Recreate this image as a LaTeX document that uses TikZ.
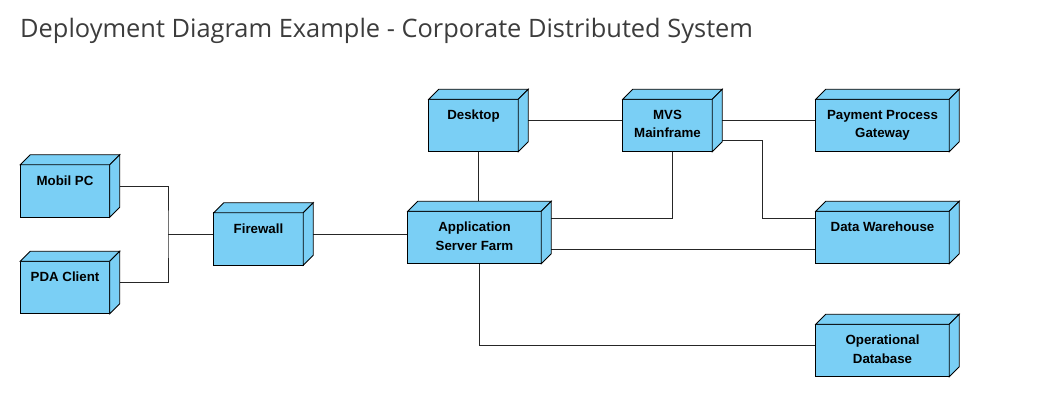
\documentclass[tikz,border=0pt]{standalone}
\usepackage{fontspec}
\setmainfont{Liberation Sans}
\newfontfamily\titlefont{Open Sans}
\usetikzlibrary{calc,backgrounds}
\definecolor{nodeblue}{RGB}{122,207,245}
\definecolor{titlegray}{RGB}{60,60,60}
\tikzset{
  dnode/.style={minimum width=99pt,minimum height=62pt,inner sep=0pt},
  wide/.style={minimum width=143pt},
  dlabel/.style={anchor=north,inner sep=0pt,xshift=-5pt,yshift=-20.5pt,
    align=center,font=\fontsize{13.3}{18.5}\selectfont\bfseries},
  box/.style={fill=nodeblue,draw=black,line width=0.9pt,line join=miter},
  link/.style={draw=black!85,line width=0.9pt},
}

\begin{document}
\begin{tikzpicture}[x=1pt,y=1pt]
    \useasboundingbox (0,0) rectangle (1053,-403);
    \node[anchor=base west,font=\titlefont\fontsize{25.4}{28}\selectfont,text=titlegray,inner sep=0pt]
      (title) at (20,-38) {Deployment Diagram Example - Corporate Distributed System};
    % nodes
    \node[dnode,label={[dlabel]north:Mobil PC}] (mobil) at (70,-186) {};
    \node[dnode,label={[dlabel]north:PDA Client}] (pda) at (70,-282.5) {};
    \node[dnode,label={[dlabel]north:Firewall}] (fw) at (263.5,-234) {};
    \node[dnode,label={[dlabel]north:Desktop}] (desk) at (478.5,-120.5) {};
    \node[dnode,label={[dlabel]north:MVS\\Mainframe}] (mvs) at (672.5,-120.5) {};
    \node[dnode,wide,label={[dlabel]north:Application\\Server Farm}] (app) at (479.5,-232.5) {};
    \node[dnode,wide,label={[dlabel]north:Payment Process\\Gateway}] (pay) at (887.5,-120.5) {};
    \node[dnode,wide,label={[dlabel]north:Data Warehouse}] (dw) at (887.5,-232.5) {};
    \node[dnode,wide,label={[dlabel]north:Operational\\Database}] (odb) at (887.5,-345.5) {};
    \begin{pgfonlayer}{background}
    % connectors
    \coordinate (jn) at (168,-234);
    \draw[link] (mobil.east) -| (jn) |- (pda.east);
    \draw[link] (jn) -- (fw.west);
    \draw[link] (fw.east) -- (fw.east -| app.west);
    \draw[link] (desk.east) -- (mvs.west);
    \draw[link] (desk.south) -- (desk.south |- app.north);
    \draw[link] (mvs.south) |- ([yshift=14.5pt]app.east);
    \draw[link] (mvs.east) -- (pay.west);
    \draw[link] ([yshift=-20pt]mvs.east) -- ++(40,0) |- ([yshift=14.5pt]dw.west);
    \draw[link] ([yshift=-17pt]app.east) -- ([yshift=-17pt]dw.west);
    \draw[link] (app.south) |- (odb.west);
    % 3d boxes
    \foreach \n in {mobil,pda,fw,desk,mvs,app,pay,dw,odb}{
      \draw[box] (\n.south west) rectangle ([shift={(-10pt,-10pt)}]\n.north east);
      \draw[box] ([yshift=-10pt]\n.north west) -- ([xshift=10pt]\n.north west)
        -- (\n.north east) -- ([shift={(-10pt,-10pt)}]\n.north east) -- cycle;
      \draw[box] ([shift={(-10pt,-10pt)}]\n.north east) -- (\n.north east)
        -- ([yshift=10pt]\n.south east) -- ([xshift=-10pt]\n.south east) -- cycle;
    }
    \end{pgfonlayer}
\end{tikzpicture}
\end{document}
